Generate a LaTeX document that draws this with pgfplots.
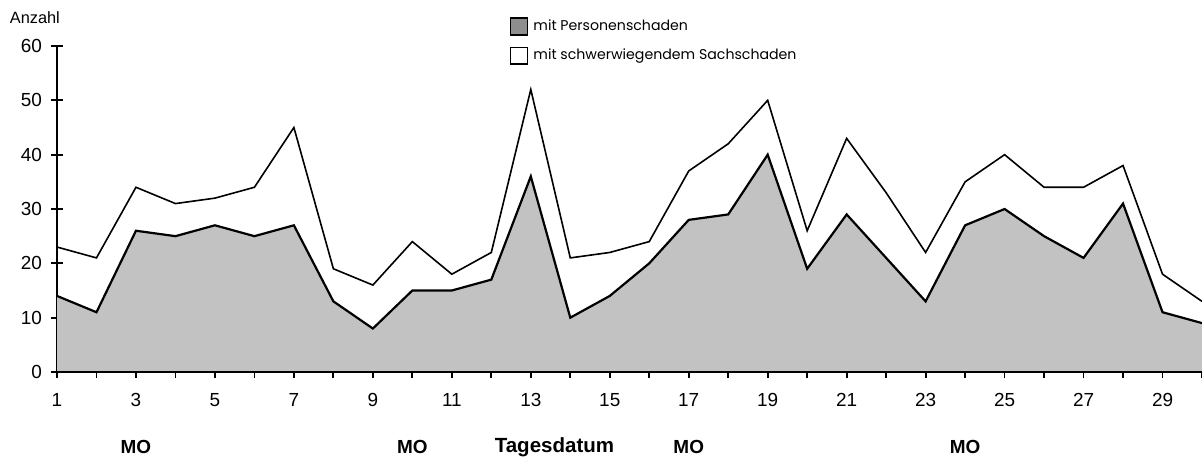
\documentclass[border=0pt]{standalone}
\usepackage{fontspec}
\setmainfont{Liberation Sans}
\newfontfamily\legfont{Poppins}
\usepackage{pgfplots}
\pgfplotsset{compat=1.18}
\usepackage{pgfplotstable}
\definecolor{areagray}{HTML}{C2C2C2}
\definecolor{leggray}{HTML}{8E8E8E}
\pgfplotstableread{
x lower upper
1 14 23
2 11 21
3 26 34
4 25 31
5 27 32
6 25 34
7 27 45
8 13 19
9 8 16
10 15 24
11 15 18
12 17 22
13 36 52
14 10 21
15 14 22
16 20 24
17 28 37
18 29 42
19 40 50
20 19 26
21 29 43
22 21 33
23 13 22
24 27 35
25 30 40
26 25 34
27 21 34
28 31 38
29 11 18
30 9 13
}\datatable
\begin{document}
\begin{tikzpicture}
\useasboundingbox (0,0) rectangle (601bp,230.5bp);
\begin{axis}[
  at={(28.5bp,44.5bp)}, anchor=south west,
  scale only axis, width=572.5bp, height=163bp,
  xmin=1, xmax=30, ymin=0, ymax=60,
  axis x line*=bottom, axis y line*=left,
  axis line style={line width=0.9bp},
  every tick/.style={black, line width=0.9bp},
  tick align=center, major tick length=6bp,
  xtick={1,...,30},
  xticklabels={1,,3,,5,,7,,9,,11,,13,,15,,17,,19,,21,,23,,25,,27,,29,},
  ytick={0,10,...,60},
  /pgf/number format/assume math mode=true,
  tick label style={font=\fontsize{9.5}{11}\selectfont},
  xticklabel style={yshift=-4bp},
  yticklabel style={xshift=-1bp},
  clip=false,
  legend style={at={(0.395,1.09)}, anchor=north west, draw=none, fill=none,
    font=\legfont\fontsize{7.1}{8}\selectfont, row sep=5.5bp, inner sep=0pt,
    nodes={inner xsep=2.5bp, inner ysep=0pt},
    legend cell align=left},
  legend image code/.code={\draw[#1] (0bp,-4.2bp) rectangle (8.5bp,4.2bp);},
]
\addlegendimage{fill=leggray, draw=black, line width=0.9bp}
\addlegendentry{mit Personenschaden}
\addlegendimage{fill=white, draw=black, line width=0.9bp}
\addlegendentry{mit schwerwiegendem Sachschaden}
\addplot[fill=areagray, draw=none, forget plot] table[x=x,y=lower] {\datatable} \closedcycle;
\addplot[black, line width=1.1bp, forget plot] table[x=x,y=lower] {\datatable};
\addplot[black, line width=0.8bp, forget plot] table[x=x,y=upper] {\datatable};
\draw[line width=0.9bp] (axis cs:1,0) -- (axis cs:30,0);
\node[font=\fontsize{8.2}{9}\selectfont] at (axis cs:0.44,65.3) {Anzahl};
\node[font=\bfseries\fontsize{9.5}{11}\selectfont] at (axis cs:3,-13.8) {MO};
\node[font=\bfseries\fontsize{9.5}{11}\selectfont] at (axis cs:10,-13.8) {MO};
\node[font=\bfseries\fontsize{9.5}{11}\selectfont] at (axis cs:17,-13.8) {MO};
\node[font=\bfseries\fontsize{9.5}{11}\selectfont] at (axis cs:24,-13.8) {MO};
\node[font=\bfseries\fontsize{10.3}{12}\selectfont] at (axis cs:13.6,-13.8) {Tagesdatum};
\end{axis}
\end{tikzpicture}
\end{document}
